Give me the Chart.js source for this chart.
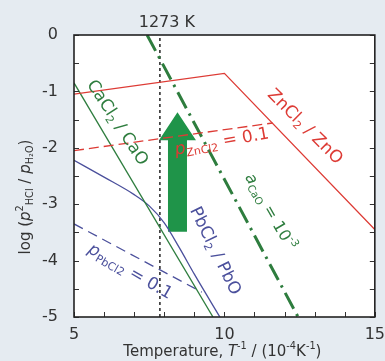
<!DOCTYPE html>
<html>
<head>
<meta charset="utf-8">
<script src="https://cdn.jsdelivr.net/npm/chart.js@4/dist/chart.umd.min.js"></script>
<style>
  html, body { margin: 0; padding: 0; background: #e5ebf1; }
  #wrap { width: 385px; height: 361px; position: relative; }
</style>
</head>
<body>
<div id="wrap"><canvas id="myChart" width="385" height="361"></canvas></div>
<script>
// axis ranges
var xMin = 5, xMax = 15, yMin = -5, yMax = 0;

// ZnCl2 / ZnO boundary
var znoX = [5, 10, 15];
var znoY = [-1.05, -0.68, -3.45];
// pZnCl2 = 0.1
var znDashX = [5, 11.6];
var znDashY = [-2.05, -1.56];
// CaCl2 / CaO boundary
var caoX = [5, 9.62];
var caoY = [-0.85, -5.0];
// PbCl2 / PbO boundary
var pboX = [5, 6, 7, 7.5, 8, 8.5, 9, 9.85];
var pboY = [-2.22, -2.52, -2.83, -3.03, -3.33, -3.77, -4.24, -5.0];
// pPbCl2 = 0.1
var pbDashX = [5, 9.25];
var pbDashY = [-3.35, -4.56];
// aCaO = 10^-3
var acaoX = [7.43, 12.45];
var acaoY = [0, -5.0];
// 1273 K marker
var tempK = 1273;
var tempX = 10000 / tempK;
// green arrow
var arrowX = 8.44;
var arrowY = [-3.49, -1.37];

var red = '#dd3b35', green = '#2e7d3e', blue = '#4b509c', arrowGreen = '#1f9449';

function pts(xs, ys) {
    return xs.map(function (x, i) { return { x: x, y: ys[i] }; });
}

// draws text made of pieces: n normal, i italic, b subscript, p superscript
function drawRich(ctx, segs, x, y, angle, size, color, family) {
    family = family || 'DejaVu Sans';
    function fontOf(kind) {
        var s = (kind == 'b' || kind == 'p') ? size * 0.65 : size;
        return (kind == 'i' ? 'italic ' : '') + s + 'px "' + family + '"';
    }
    var total = 0;
    segs.forEach(function (s) {
        ctx.font = fontOf(s[1]);
        s.w = ctx.measureText(s[0]).width;
        total += s.w;
    });
    ctx.save();
    ctx.translate(x, y);
    ctx.rotate(angle * Math.PI / 180);
    ctx.fillStyle = color;
    ctx.textBaseline = 'middle';
    ctx.textAlign = 'left';
    var cx = -total / 2;
    segs.forEach(function (s) {
        ctx.font = fontOf(s[1]);
        var dy = 0;
        if (s[1] == 'b') dy = size * 0.3;
        if (s[1] == 'p') dy = -size * 0.35;
        ctx.fillText(s[0], cx, dy);
        cx += s.w;
    });
    ctx.restore();
}

var labels = [
    { segs: [['CaCl', 'n'], ['2', 'b'], [' / CaO', 'n']], x: 6.43, y: -1.56, angle: 57, color: green, size: 17 },
    { segs: [['ZnCl', 'n'], ['2', 'b'], [' / ZnO', 'n']], x: 12.67, y: -1.63, angle: 45, color: red, size: 17 },
    { segs: [['p', 'i'], ['ZnCl2', 'b'], [' = 0.1', 'n']], x: 9.92, y: -1.9, angle: -10, color: red, size: 17 },
    { segs: [['a', 'i'], ['CaO', 'b'], [' = 10', 'n'], ['-3', 'p']], x: 11.51, y: -3.14, angle: 60, color: green, size: 16 },
    { segs: [['PbCl', 'n'], ['2', 'b'], [' / PbO', 'n']], x: 9.68, y: -3.83, angle: 64, color: blue, size: 17 },
    { segs: [['p', 'i'], ['PbCl2', 'b'], [' = 0.1', 'n']], x: 6.86, y: -4.2, angle: 30, color: blue, size: 17 }
];

var decor = {
    id: 'decor',
    beforeDraw: function (chart) {
        var ctx = chart.ctx, a = chart.chartArea;
        ctx.save();
        ctx.fillStyle = '#ffffff';
        ctx.fillRect(a.left, a.top, a.right - a.left, a.bottom - a.top);
        ctx.restore();
    },
    beforeDatasetsDraw: function (chart) {
        // the big green arrow
        var ctx = chart.ctx, xs = chart.scales.x, ys = chart.scales.y;
        var cx = xs.getPixelForValue(arrowX);
        var yb = ys.getPixelForValue(arrowY[0]);
        var yt = ys.getPixelForValue(arrowY[1]);
        var shaft = 9.5, head = 18.5, headLen = 28;
        ctx.save();
        ctx.fillStyle = arrowGreen;
        ctx.beginPath();
        ctx.moveTo(cx - shaft, yb);
        ctx.lineTo(cx - shaft, yt + headLen);
        ctx.lineTo(cx - head, yt + headLen);
        ctx.lineTo(cx, yt);
        ctx.lineTo(cx + head, yt + headLen);
        ctx.lineTo(cx + shaft, yt + headLen);
        ctx.lineTo(cx + shaft, yb);
        ctx.closePath();
        ctx.fill();
        ctx.restore();
    },
    afterDraw: function (chart) {
        var ctx = chart.ctx, a = chart.chartArea, xs = chart.scales.x, ys = chart.scales.y;
        ctx.save();
        // inward tick marks
        ctx.strokeStyle = '#333';
        ctx.lineWidth = 1;
        ctx.beginPath();
        for (var v = yMin; v <= yMax; v += 0.5) {
            var py = Math.round(ys.getPixelForValue(v)) + 0.5;
            ctx.moveTo(a.left, py); ctx.lineTo(a.left + 5, py);
            ctx.moveTo(a.right, py); ctx.lineTo(a.right - 5, py);
        }
        for (var u = xMin; u <= xMax; u += 1) {
            var px = Math.round(xs.getPixelForValue(u)) + 0.5;
            ctx.moveTo(px, a.bottom); ctx.lineTo(px, a.bottom - 5);
        }
        ctx.stroke();
        // frame
        ctx.strokeStyle = '#222';
        ctx.lineWidth = 1.6;
        ctx.strokeRect(a.left, a.top, a.right - a.left, a.bottom - a.top);
        ctx.restore();

        // labels inside the plot
        labels.forEach(function (l) {
            drawRich(ctx, l.segs, xs.getPixelForValue(l.x), ys.getPixelForValue(l.y), l.angle, l.size, l.color);
        });

        // 1273 K
        drawRich(ctx, [[tempK + ' K', 'n']], xs.getPixelForValue(tempX) + 7, a.top - 12, 0, 16, '#333');

        // axis titles
        drawRich(ctx, [['Temperature, ', 'n'], ['T', 'i'], ['-1', 'p'], [' / (10', 'n'], ['-4', 'p'], ['K', 'n'], ['-1', 'p'], [')', 'n']],
            (a.left + a.right) / 2 - 2, 352, 0, 15, '#333');
        drawRich(ctx, [['log (', 'n'], ['p', 'i'], ['2', 'p'], ['HCl', 'b'], [' / ', 'n'], ['p', 'i'], ['H\u2082O', 'b'], [')', 'n']],
            26, 197, -90, 15, '#333');
    }
};

var ctx = document.getElementById('myChart');
var myChart = new Chart(ctx, {
    type: 'scatter',
    data: {
        datasets: [
            { data: pts(znoX, znoY), borderColor: red, borderWidth: 1.3 },
            { data: pts(znDashX, znDashY), borderColor: red, borderWidth: 1.3, borderDash: [10, 5] },
            { data: pts(caoX, caoY), borderColor: green, borderWidth: 1.3 },
            { data: pts(pboX, pboY), borderColor: blue, borderWidth: 1.3, cubicInterpolationMode: 'monotone' },
            { data: pts(pbDashX, pbDashY), borderColor: blue, borderWidth: 1.3, borderDash: [10, 6] },
            { data: pts(acaoX, acaoY), borderColor: green, borderWidth: 3, borderDash: [18, 6, 2.5, 6] },
            { data: [{ x: tempX, y: yMin }, { x: tempX, y: yMax }], borderColor: '#222', borderWidth: 1.5, borderDash: [3, 3] }
        ]
    },
    options: {
        responsive: false,
        animation: false,
        showLine: true,
        elements: { point: { radius: 0, hoverRadius: 0 }, line: { tension: 0 } },
        layout: { padding: { left: 0, right: 10, top: 35, bottom: 0 } },
        plugins: { legend: { display: false }, tooltip: { enabled: false } },
        scales: {
            x: {
                type: 'linear', min: xMin, max: xMax,
                grid: { display: false },
                border: { display: false },
                ticks: { stepSize: 5, padding: 0, color: '#333', font: { family: 'DejaVu Sans', size: 16 } },
                afterFit: function (scale) { scale.height = 44; }
            },
            y: {
                type: 'linear', min: yMin, max: yMax,
                grid: { display: false },
                border: { display: false },
                ticks: { stepSize: 1, padding: 8, color: '#333', font: { family: 'DejaVu Sans', size: 16 } },
                afterFit: function (scale) { scale.width = 74; }
            }
        }
    },
    plugins: [decor]
});
</script>
</body>
</html>
